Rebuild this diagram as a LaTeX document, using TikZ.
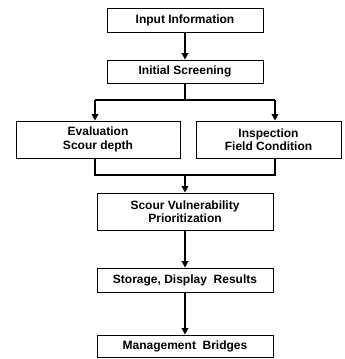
\documentclass[tikz,border=0pt]{standalone}
\usepackage{fontspec}
\setmainfont{Liberation Sans}
\usetikzlibrary{arrows.meta,calc}
\begin{document}
\begin{tikzpicture}[x=1pt,y=-1pt,
  box/.style={draw,line width=0.8pt,fill=white,inner sep=0pt,align=center,
    font=\fontsize{12}{13.5}\selectfont\bfseries},
  conn/.style={line width=1.9pt},
  arr/.style={conn,-{Triangle[length=6.5pt,width=6.5pt]}}]
  \useasboundingbox (0,0) rectangle (345,359);
  % process boxes
  \node[box,minimum width=156pt,minimum height=24pt] (in) at (185,20) {Input Information};
  \node[box,minimum width=156pt,minimum height=23pt] (screen) at (185,71.5) {Initial Screening};
  \node[box,minimum width=164pt,minimum height=37pt] (eval) at (98,139.5) {Evaluation\\Scour depth};
  \node[box,minimum width=145pt,minimum height=37pt] (insp) at (268.5,139.5) {Inspection\\Field Condition};
  \node[box,minimum width=176pt,minimum height=37pt] (svp) at (185,211.5) {Scour Vulnerability\\Prioritization};
  \node[box,minimum width=176pt,minimum height=24pt] (store) at (185,280) {Storage, Display~~Results};
  \node[box,minimum width=176pt,minimum height=22pt] (mgmt) at (185,346) {Management~~Bridges};
  % branch and join points
  \coordinate (split) at (185,100);
  \coordinate (sl) at (95,100);
  \coordinate (sr) at (275,100);
  \coordinate (join) at (185,175);
  \coordinate (jl) at (95,175);
  \coordinate (jr) at (275,175);
  % connectors
  \draw[arr] (in) -- (screen);
  \draw[conn] (screen.south) -- (split);
  \draw[conn] (sl) -- (sr);
  \draw[arr] (sl) -- (sl |- eval.north);
  \draw[arr] (sr) -- (sr |- insp.north);
  \draw[conn] (jl |- eval.south) -- (jl) -- (jr) -- (jr |- insp.south);
  \draw[arr] (join) -- (svp.north);
  \draw[arr] (svp) -- (store);
  \draw[arr] (store) -- (mgmt);
\end{tikzpicture}
\end{document}
